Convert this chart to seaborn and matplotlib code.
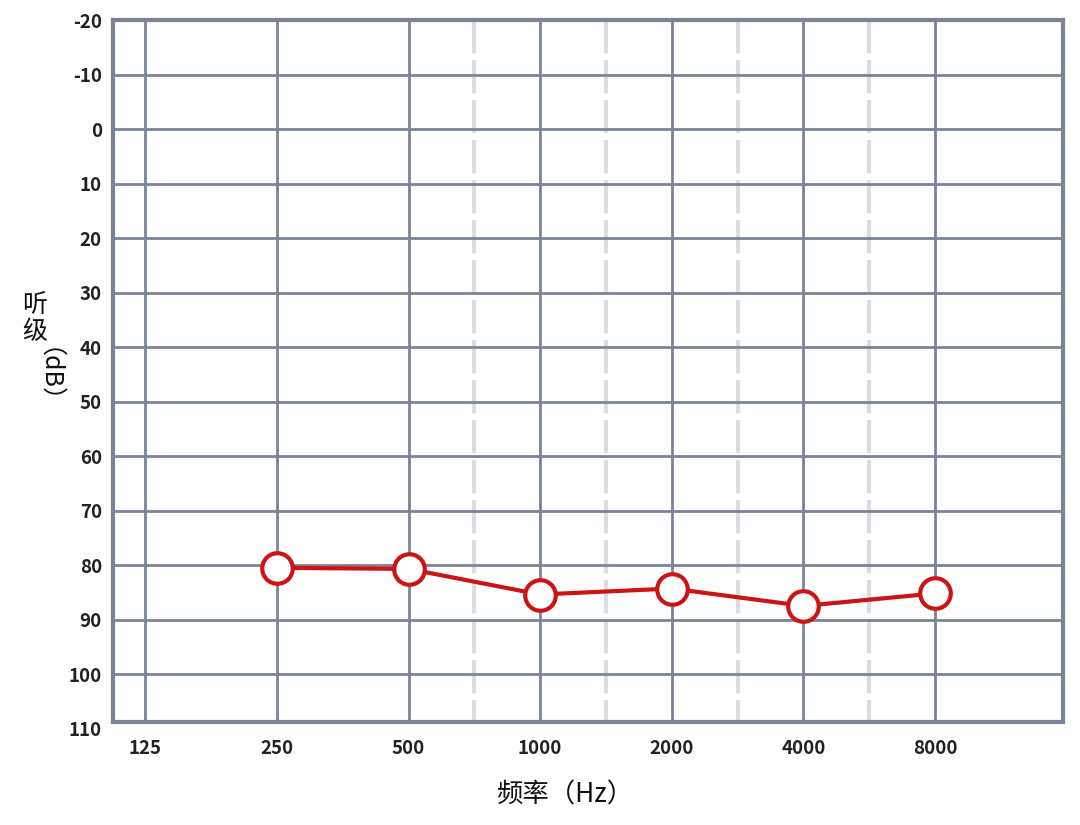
import numpy as np
import pandas as pd
import seaborn as sns
import matplotlib.pyplot as plt

sns.set_theme(style="white")
plt.rcParams['font.family'] = ['Noto Sans CJK SC', 'DejaVu Sans']

# audiogram readings (dB HL)
freqs = [250, 500, 1000, 2000, 4000, 8000]
levels = [80.5, 80.7, 85.4, 84.3, 87.5, 85.2]
tick_freqs = [125, 250, 500, 1000, 2000, 4000, 8000]
y_ticks = list(range(-20, 111, 10))

df = pd.DataFrame({"freq": freqs, "level": levels})

grid_col = "#7b8396"
red = "#cc1414"

fig = plt.figure(figsize=(10.8, 8.25), dpi=100)
ax = fig.add_axes([113 / 1080, 1 - 728.5 / 825, 950 / 1080, 708.1 / 825])

ax.set_xscale("log", base=2)
ax.set_xlim(105.4, 15700)
ax.set_ylim(110, -20)
y_bottom = 108.8  # the chart frame stops a little above the 110 label

# grid
ax.hlines(y_ticks[1:-1], 105.4, 15700, color=grid_col, lw=2, zorder=1)
ax.vlines(tick_freqs, -20, y_bottom, color=grid_col, lw=2, zorder=1)
# half-octave dashed lines
half = [np.sqrt(a * b) for a, b in zip(tick_freqs[2:-1], tick_freqs[3:])]
ax.vlines(half, -20, y_bottom, color="#dcdde2", lw=3,
          linestyles=[(0, (8, 1.6))], zorder=0.5)

sns.lineplot(data=df, x="freq", y="level", ax=ax, color=red, lw=3,
             marker="o", markersize=22, markerfacecolor="white",
             markeredgecolor=red, markeredgewidth=3, zorder=5)

for s in ax.spines.values():
    s.set_color(grid_col)
    s.set_linewidth(3)
ax.spines["bottom"].set_position(("data", y_bottom))
ax.spines["left"].set_bounds(-20, y_bottom)
ax.spines["right"].set_bounds(-20, y_bottom)

ax.set_xticks(tick_freqs)
ax.set_xticklabels([str(f) for f in tick_freqs], fontweight="bold")
ax.minorticks_off()
ax.set_yticks(y_ticks)
ax.set_yticklabels([str(y) for y in y_ticks], fontweight="bold")
ax.tick_params(axis="both", length=0, labelsize=13.5, colors="#222222")
ax.tick_params(axis="x", pad=12)
ax.tick_params(axis="y", pad=8)

ax.set_xlabel("")
ax.set_ylabel("")
fig.text(565 / 1080, 1 - 795 / 825, "频率（Hz）", ha="center", va="center",
         fontsize=19, fontweight="medium", color="#111111")
fig.text(35 / 1080, 1 - 319 / 825, "听\n级", ha="center", va="center",
         fontsize=18, fontweight="medium", color="#111111", linespacing=1.05)
fig.text(35 / 1080, 1 - 388 / 825, "（dB）", ha="center", va="center",
         rotation=270, fontsize=18, fontweight="medium", color="#111111")

fig.savefig("out.png", dpi=100)
